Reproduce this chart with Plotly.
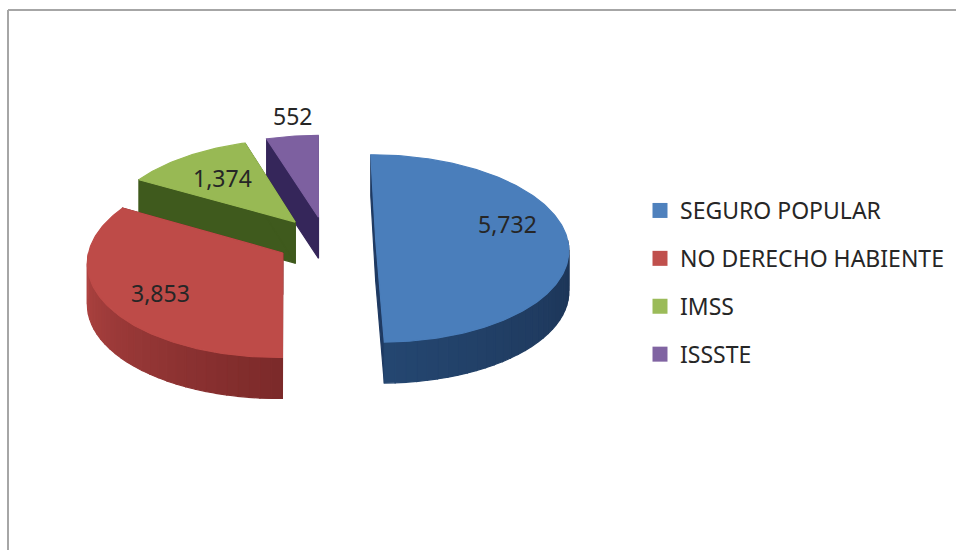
import math
import plotly.graph_objects as go

categories = ["SEGURO POPULAR", "NO DERECHO HABIENTE", "IMSS", "ISSSTE"]
values = [5732, 3853, 1374, 552]
top_colors = ["#4a7ebb", "#be4b48", "#98b954", "#7d60a0"]
legend_colors = ["#4f81bd", "#c0504d", "#9bbb59", "#8064a2"]
radial_wall_colors = ["#1f3a62", "#7e2b2b", "#3f5a1d", "#35265a"]
# wall shade at the low-angle and high-angle end of each visible arc
arc_wall_ends = [("#1c3354", "#244670"), ("#7c2a2a", "#b04442"), ("#3f5a1d", "#3f5a1d"), ("#35265a", "#35265a")]
label_xy = [(507, 224), (160, 293), (222, 178), (292, 116)]

# pseudo-3D projection (pixel-like plot coordinates)
CX, CY, A, B = 326.0, 240.5, 192.0, 93.0
K, EXPLODE, DEPTH, START = 0.088, 0.259, 41.0, -0.3
FONT = "Noto Sans"


def project(wx, wy, z=0.0):
    s = 1.0 / (1.0 + K * wy)
    return CX + A * wx * s, CY - B * wy * s + z


def mix(c1, c2, t):
    a = [int(c1[i:i + 2], 16) for i in (1, 3, 5)]
    b = [int(c2[i:i + 2], 16) for i in (1, 3, 5)]
    return "#" + "".join(f"{round(p + (q - p) * t):02x}" for p, q in zip(a, b))


def poly(points, color, name=None, hover=False):
    xs = [p[0] for p in points] + [points[0][0]]
    ys = [p[1] for p in points] + [points[0][1]]
    return go.Scatter(
        x=xs, y=ys, mode="lines", fill="toself", fillcolor=color,
        line=dict(color=color, width=1.2), showlegend=False, name=name,
        hoverinfo="name" if hover else "skip",
    )


total = sum(values)
spans = []
angle = START
for v in values:
    sweep = v / total * 360.0
    spans.append((angle, angle + sweep))
    angle += sweep

fig = go.Figure()
for i in [3, 2, 1, 0]:  # back to front
    a0, a1 = spans[i]
    mid = math.radians((a0 + a1) / 2)
    ox, oy = EXPLODE * math.sin(mid), EXPLODE * math.cos(mid)

    def rim(deg, z=0.0):
        r = math.radians(deg)
        return project(ox + math.sin(r), oy + math.cos(r), z)

    apex = project(ox, oy)
    apex_low = project(ox, oy, DEPTH)
    # radial cut walls
    fig.add_trace(poly([apex, rim(a0), rim(a0, DEPTH), apex_low], radial_wall_colors[i]))
    fig.add_trace(poly([apex, rim(a1), rim(a1, DEPTH), apex_low], radial_wall_colors[i]))
    # outer wall, shaded in bands along the visible front arc
    lo, hi = max(a0, 90.0), min(a1, 270.0)
    if hi > lo:
        n = 30
        for j in range(n):
            d0 = lo + (hi - lo) * j / n
            d1 = lo + (hi - lo) * (j + 1) / n
            steps = [d0 + (d1 - d0) * t / 4 for t in range(5)]
            pts = [rim(d) for d in steps] + [rim(d, DEPTH) for d in reversed(steps)]
            fig.add_trace(poly(pts, mix(arc_wall_ends[i][0], arc_wall_ends[i][1], j / (n - 1))))
    # top face
    count = max(2, int(a1 - a0) + 1)
    arc = [rim(a0 + (a1 - a0) * t / count) for t in range(count + 1)]
    fig.add_trace(poly([apex] + arc, top_colors[i], name=f"{categories[i]}: {values[i]:,}", hover=True))

# legend entries
for name, color in zip(categories, legend_colors):
    fig.add_trace(go.Scatter(
        x=[None], y=[None], mode="markers", name=name, legendgroup=name,
        marker=dict(symbol="square", size=15, color=color),
    ))

annotations = [
    dict(x=x, y=y, xref="x", yref="y", text=f"{v:,}", showarrow=False,
         font=dict(family=FONT, size=23, color="#262626"))
    for v, (x, y) in zip(values, label_xy)
]

border = "#a6a6a6"
shapes = [
    dict(type="line", xref="x", yref="y", x0=8, x1=8, y0=550, y1=10, line=dict(color=border, width=2)),
    dict(type="line", xref="x", yref="y", x0=8, x1=956, y0=10, y1=10, line=dict(color=border, width=2)),
]

fig.update_layout(
    width=956, height=550, autosize=False,
    margin=dict(l=0, r=0, t=0, b=0),
    paper_bgcolor="white", plot_bgcolor="white",
    xaxis=dict(range=[0, 956], visible=False, fixedrange=True),
    yaxis=dict(range=[550, 0], visible=False, fixedrange=True),
    shapes=shapes, annotations=annotations,
    legend=dict(
        x=640 / 956, y=1 - 189 / 550, xanchor="left", yanchor="top",
        bgcolor="rgba(0,0,0,0)", borderwidth=0, tracegroupgap=15,
        traceorder="grouped", itemsizing="trace",
        font=dict(family=FONT, size=23, color="#262626"),
    ),
    showlegend=True,
)

fig.write_html("out.html", config={"displayModeBar": False},
               post_script="document.body.style.margin='0';")
